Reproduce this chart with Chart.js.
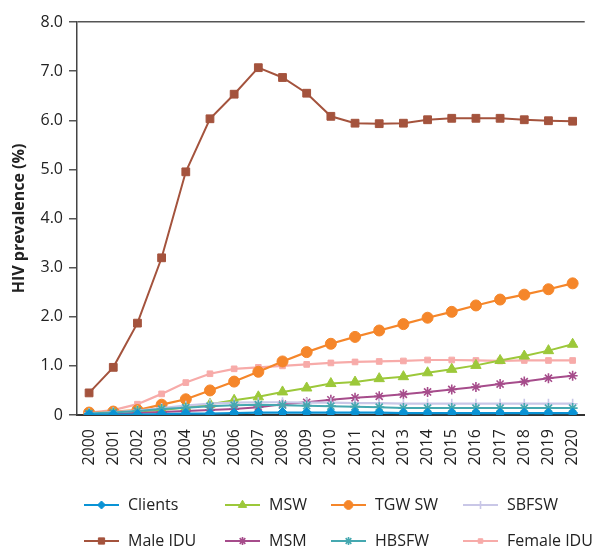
<!DOCTYPE html>
<html>
<head>
<meta charset="utf-8">
<script src="https://cdn.jsdelivr.net/npm/chart.js@4"></script>
<style>
  html, body { margin: 0; padding: 0; background: #fff; }
  #wrap { width: 598px; height: 547px; position: relative; }
</style>
</head>
<body>
<div id="wrap"><canvas id="chartCanvas"></canvas></div>
<script>
const years = ['2000', '2001', '2002', '2003', '2004', '2005', '2006', '2007', '2008', '2009', '2010',
               '2011', '2012', '2013', '2014', '2015', '2016', '2017', '2018', '2019', '2020'];

const clients   = [0.01, 0.01, 0.01, 0.02, 0.03, 0.03, 0.04, 0.05, 0.05, 0.05, 0.05, 0.05, 0.05, 0.04, 0.04, 0.04, 0.04, 0.04, 0.04, 0.04, 0.04];
const maleIdu   = [0.45, 0.97, 1.87, 3.20, 4.95, 6.03, 6.53, 7.07, 6.87, 6.55, 6.08, 5.94, 5.93, 5.94, 6.01, 6.04, 6.04, 6.04, 6.01, 5.99, 5.98];
const msw       = [0.02, 0.04, 0.07, 0.10, 0.15, 0.22, 0.30, 0.37, 0.47, 0.55, 0.64, 0.67, 0.74, 0.78, 0.86, 0.93, 1.01, 1.11, 1.20, 1.31, 1.44];
const msm       = [0.02, 0.03, 0.04, 0.06, 0.08, 0.10, 0.12, 0.16, 0.22, 0.26, 0.31, 0.35, 0.38, 0.42, 0.47, 0.52, 0.57, 0.63, 0.68, 0.75, 0.80];
const tgwSw     = [0.05, 0.07, 0.10, 0.21, 0.32, 0.50, 0.68, 0.88, 1.09, 1.28, 1.45, 1.59, 1.72, 1.85, 1.98, 2.10, 2.23, 2.35, 2.45, 2.56, 2.68];
const hbsfw     = [0.03, 0.05, 0.08, 0.12, 0.15, 0.18, 0.20, 0.21, 0.20, 0.19, 0.18, 0.17, 0.16, 0.14, 0.14, 0.14, 0.14, 0.14, 0.14, 0.14, 0.14];
const sbfsw     = [0.04, 0.06, 0.09, 0.14, 0.19, 0.23, 0.25, 0.26, 0.26, 0.25, 0.25, 0.24, 0.24, 0.23, 0.23, 0.23, 0.23, 0.23, 0.23, 0.23, 0.23];
const femaleIdu = [0.05, 0.10, 0.22, 0.43, 0.66, 0.84, 0.94, 0.97, 1.00, 1.03, 1.06, 1.08, 1.09, 1.10, 1.12, 1.12, 1.11, 1.10, 1.11, 1.11, 1.11];

const yTicks = [0, 1, 2, 3, 4, 5, 6, 7, 8];

const FONT = '"Open Sans", "Noto Sans", sans-serif';

function series(label, data, color, style, radius, width, filled) {
    return {
        label: label,
        data: data,
        borderColor: color,
        backgroundColor: color,
        borderWidth: width,
        pointStyle: style,
        pointRadius: radius,
        pointHoverRadius: radius,
        pointBorderColor: color,
        pointBackgroundColor: color,
        pointBorderWidth: filled ? 1 : 1.6,
        tension: 0
    };
}

// drawn bottom-up: later entries are painted first
const datasets = [
    series('Clients', clients, '#0a93d5', 'rectRot', 5, 2.2, true),
    series('HBSFW', hbsfw, '#45a8b0', 'star', 5, 2, false),
    series('SBFSW', sbfsw, '#c9c7e7', 'cross', 5, 2.2, false),
    series('MSM', msm, '#a64c8b', 'star', 5, 2, false),
    series('MSW', msw, '#9cc83a', 'triangle', 6, 2, true),
    series('TGW SW', tgwSw, '#f5862a', 'circle', 5.5, 2.2, true),
    series('Female IDU', femaleIdu, '#f7aba9', 'rect', 4, 2.2, true),
    series('Male IDU', maleIdu, '#a4533d', 'rect', 5.5, 2, true)
];

// legend grid (row-major like the original)
const legendOrder = ['Clients', 'MSW', 'TGW SW', 'SBFSW', 'Male IDU', 'MSM', 'HBSFW', 'Female IDU'];

const gridLegend = {
    id: 'gridLegend',
    afterDraw(chart) {
        const ctx = chart.ctx;
        const colX = [84, 225, 331, 463];
        const rowY = [505, 541];
        ctx.save();
        legendOrder.forEach((name, i) => {
            const ds = chart.data.datasets.find(d => d.label === name);
            const x = colX[i % 4];
            const y = rowY[Math.floor(i / 4)];
            ctx.strokeStyle = ds.borderColor;
            ctx.fillStyle = ds.backgroundColor;
            ctx.lineWidth = ds.borderWidth;
            ctx.beginPath();
            ctx.moveTo(x, y);
            ctx.lineTo(x + 35, y);
            ctx.stroke();
            ctx.lineWidth = ds.pointBorderWidth;
            Chart.helpers.drawPoint(ctx, {
                pointStyle: ds.pointStyle,
                radius: ds.pointRadius * 0.8,
                rotation: 0,
                borderWidth: ds.pointBorderWidth
            }, x + 17.5, y);
            ctx.fillStyle = '#222';
            ctx.font = '16px ' + FONT;
            ctx.textBaseline = 'middle';
            ctx.textAlign = 'left';
            ctx.fillText(name, x + 44, y);
        });
        ctx.restore();
    }
};

const canvas = document.getElementById('chartCanvas');
const ctx = canvas.getContext('2d');

new Chart(ctx, {
    type: 'line',
    data: { labels: years, datasets: datasets },
    options: {
        responsive: true,
        maintainAspectRatio: false,
        animation: false,
        layout: { padding: { top: 22, right: 0, bottom: 0, left: 0 } },
        plugins: {
            legend: { display: false },
            tooltip: { enabled: false }
        },
        scales: {
            x: {
                offset: true,
                grid: { display: false },
                border: { display: true, color: '#333', width: 2 },
                ticks: {
                    color: '#222',
                    font: { family: FONT, size: 16 },
                    minRotation: 90,
                    maxRotation: 90,
                    padding: 6,
                    autoSkip: false
                },
                afterFit(scale) { scale.height = 132; }
            },
            y: {
                min: 0,
                max: 8,
                afterBuildTicks(scale) {
                    scale.ticks = yTicks.map(v => ({ value: v }));
                },
                grid: {
                    drawOnChartArea: true,
                    color: c => (c.tick && c.tick.value === 8) ? '#555' : 'rgba(0,0,0,0)',
                    tickColor: '#555',
                    tickLength: 8,
                    lineWidth: 1.5
                },
                border: { display: true, color: '#444', width: 1.5 },
                ticks: {
                    color: '#222',
                    font: { family: FONT, size: 16 },
                    padding: 6,
                    callback: v => v === 0 ? '0' : v.toFixed(1)
                },
                title: {
                    display: true,
                    text: 'HIV prevalence (%)',
                    color: '#222',
                    font: { family: FONT, size: 16, weight: 'bold' },
                    padding: { top: 10, bottom: 4 }
                },
                afterFit(scale) { scale.width = 77; }
            }
        }
    },
    plugins: [gridLegend]
});
</script>
</body>
</html>
